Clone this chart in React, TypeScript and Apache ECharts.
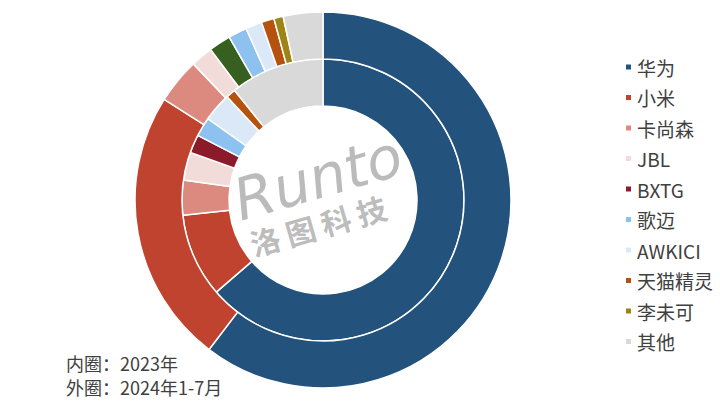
import React, { useEffect, useRef } from "react";
import * as echarts from "echarts";

const legendNames = ["华为", "小米", "卡尚森", "JBL", "BXTG", "歌迈", "AWKICI", "天猫精灵", "李未可", "其他"];

const innerNames = ["华为", "小米", "卡尚森", "JBL", "BXTG", "歌迈", "AWKICI", "天猫精灵", "其他"];
const innerValues = [63.6, 9.6, 4.0, 3.2, 2.1, 2.2, 3.3, 1.1, 10.8];

const outerNames = ["华为", "小米", "卡尚森", "JBL", "其他品牌", "歌迈", "AWKICI", "天猫精灵", "李未可", "其他"];
const outerValues = [60.3, 23.6, 3.9, 1.9, 1.9, 1.6, 1.4, 1.1, 0.8, 3.4];

const colorMap: Record<string, string> = {
  "华为": "#23527C",
  "小米": "#C0432F",
  "卡尚森": "#DC8A7F",
  "JBL": "#F2DCD9",
  "BXTG": "#8B1A2A",
  "歌迈": "#8DC1F0",
  "AWKICI": "#DAE8F7",
  "天猫精灵": "#B5520E",
  "李未可": "#9C8514",
  "其他": "#D9D9D9",
  "其他品牌": "#375F1F",
};

const noteLines = ["内圈：2023年", "外圈：2024年1-7月"];

const FONT = "'Noto Sans CJK SC', 'Noto Sans', sans-serif";

export default function App() {
  const ref = useRef<HTMLDivElement>(null);
  useEffect(() => {
    document.body.style.margin = "0";
    if (!ref.current) return;
    const chart = echarts.init(ref.current, undefined, { renderer: "svg" });
    const mk = (names: string[], values: number[]) =>
      names.map((n, i) => ({ name: n, value: values[i], itemStyle: { color: colorMap[n] } }));
    chart.setOption({
      animation: false,
      backgroundColor: "#ffffff",
      textStyle: { fontFamily: FONT },
      legend: {
        data: legendNames,
        orient: "vertical",
        left: 619,
        top: 52,
        icon: "rect",
        itemWidth: 7,
        itemHeight: 7,
        itemGap: 10.5,
        textStyle: { fontSize: 19, color: "#404040", fontFamily: FONT, lineHeight: 20 },
      },
      series: [
        {
          name: "2023",
          type: "pie",
          center: [323, 200],
          radius: [94, 141],
          startAngle: 90,
          clockwise: true,
          label: { show: false },
          labelLine: { show: false },
          itemStyle: { borderColor: "#ffffff", borderWidth: 1.5 },
          data: mk(innerNames, innerValues),
        },
        {
          name: "2024",
          type: "pie",
          center: [323, 200],
          radius: [141, 188],
          startAngle: 90,
          clockwise: true,
          label: { show: false },
          labelLine: { show: false },
          itemStyle: { borderColor: "#ffffff", borderWidth: 1.5 },
          data: mk(outerNames, outerValues),
        },
      ],
      graphic: [
        {
          type: "text",
          left: 66,
          top: 354,
          style: { text: noteLines[0], fontSize: 18, fill: "#404040", fontFamily: FONT },
        },
        {
          type: "text",
          left: 66,
          top: 378,
          style: { text: noteLines[1], fontSize: 18, fill: "#404040", fontFamily: FONT },
        },
        {
          type: "text",
          x: 318,
          y: 178,
          rotation: 0.28,
          style: {
            text: "Runto",
            fontSize: 58,
            fontStyle: "italic",
            fill: "rgba(150,150,150,0.65)",
            fontFamily: "'DejaVu Sans', sans-serif",
            align: "center",
            verticalAlign: "middle",
          },
        },
        {
          type: "text",
          x: 318,
          y: 225,
          rotation: 0.28,
          style: {
            text: "洛 图 科 技",
            fontSize: 30,
            fontWeight: "bold",
            fill: "rgba(150,150,150,0.65)",
            fontFamily: FONT,
            align: "center",
            verticalAlign: "middle",
          },
        },
      ],
    });
    return () => chart.dispose();
  }, []);
  return <div ref={ref} style={{ width: 720, height: 406 }} />;
}
